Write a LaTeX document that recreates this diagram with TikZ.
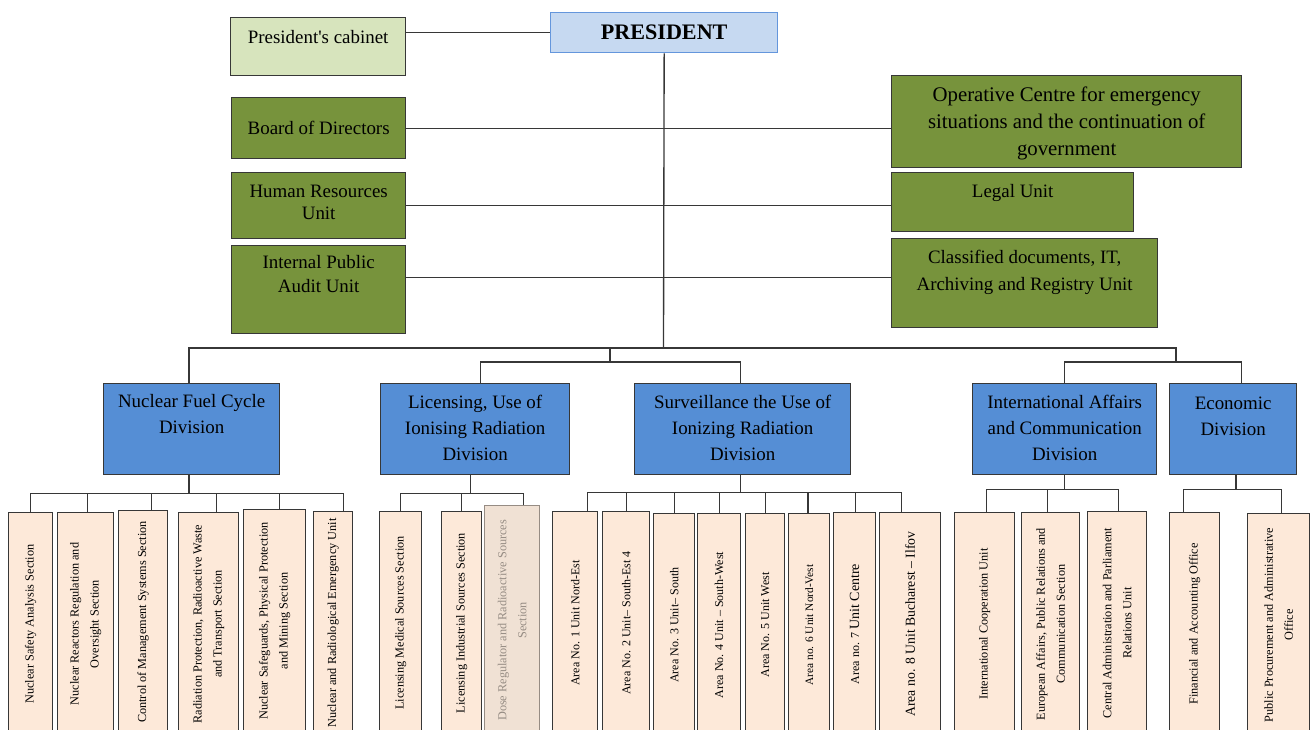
\documentclass[tikz,border=0pt]{standalone}
\usepackage{fontspec}
\setmainfont{Liberation Serif}
\usetikzlibrary{positioning}

\definecolor{boxline}{RGB}{55,55,55}
\definecolor{cabinetfill}{RGB}{215,228,189}
\definecolor{presfill}{RGB}{198,217,241}
\definecolor{presline}{RGB}{100,150,220}
\definecolor{unitgreen}{RGB}{119,147,60}
\definecolor{divblue}{RGB}{85,142,213}
\definecolor{secpeach}{RGB}{253,233,217}
\definecolor{dosefill}{RGB}{240,225,212}
\definecolor{doseline}{RGB}{150,140,132}

\tikzset{every picture/.style={line width=1pt}}
\tikzset{
  box/.style={draw=boxline, anchor=north west, inner sep=0pt},
  cabinetbox/.style={box, fill=cabinetfill},
  presbox/.style={box, draw=presline, fill=presfill},
  unitbox/.style={box, fill=unitgreen},
  divbox/.style={box, fill=divblue, minimum height=68.25pt},
  secbox/.style={box, fill=secpeach, minimum height=167pt},
  txt/.style={inner sep=0pt, align=center, font=\fontsize{14.2}{19.5}\selectfont},
  vtxt/.style={inner sep=0pt, align=center, rotate=90, font=\fontsize{9.2}{15}\selectfont},
  link/.style={draw=boxline}
}

\begin{document}
\begin{tikzpicture}[x=0.75pt,y=0.75pt,yscale=-1,xscale=1]
\useasboundingbox (0,0) rectangle (1310,729);

%Shape: Rectangle [president]
\node [presbox, minimum width=170.25pt, minimum height=30pt, font=\bfseries\fontsize{16.6}{20}\selectfont] (president) at (550,12) {PRESIDENT};
%Shape: Rectangle [cabinet]
\node [cabinetbox, minimum width=131.25pt, minimum height=43.5pt] (cabinet) at (230,17) {};
%Shape: Rectangle [board]
\node [unitbox, txt, minimum width=130.5pt, minimum height=45.75pt] (board) at (231,97) {Board of Directors};
%Shape: Rectangle [opcentre]
\node [unitbox, minimum width=262.5pt, minimum height=69pt] (opcentre) at (891,75) {};
%Shape: Rectangle [hr]
\node [unitbox, minimum width=130.5pt, minimum height=49.5pt] (hr) at (231,172) {};
%Shape: Rectangle [legal]
\node [unitbox, minimum width=181.5pt, minimum height=44.25pt] (legal) at (891,172) {};
%Shape: Rectangle [audit]
\node [unitbox, minimum width=130.5pt, minimum height=66pt] (audit) at (231,245) {};
%Shape: Rectangle [classified]
\node [unitbox, minimum width=199.5pt, minimum height=66.75pt] (classified) at (891,238) {};

%Shape: Rectangle [divisions]
\node [divbox, minimum width=132pt] (fuel) at (103,383) {};
\node [divbox, minimum width=141.75pt] (licensing) at (380,383) {};
\node [divbox, minimum width=162pt] (surveillance) at (634,383) {};
\node [divbox, minimum width=138pt] (international) at (972,383) {};
\node [divbox, minimum width=95.25pt] (economic) at (1169,383) {};

%Shape: Rectangle [sections]
\node [secbox, minimum width=33pt] (ns1) at (8,512) {};
\node [secbox, minimum width=42pt] (ns2) at (57,512) {};
\node [secbox, minimum width=36.75pt] (ns3) at (118,510) {};
\node [secbox, minimum width=45pt] (ns4) at (178,512) {};
\node [secbox, minimum width=46.5pt] (ns5) at (243,509) {};
\node [secbox, minimum width=29.25pt] (ns6) at (313,511) {};
\node [secbox, minimum width=31.5pt] (ls1) at (379,511) {};
\node [secbox, minimum width=30pt] (ls2) at (441,511) {};
\node [secbox, draw=doseline, fill=dosefill, minimum width=41.25pt, minimum height=172pt] (ls3) at (484,505) {};
\node [secbox, minimum width=33.75pt] (ar1) at (552,511) {};
\node [secbox, minimum width=35.25pt] (ar2) at (602,511) {};
\node [secbox, minimum width=30.75pt] (ar3) at (653,513) {};
\node [secbox, minimum width=32.25pt] (ar4) at (697,513) {};
\node [secbox, minimum width=29.25pt] (ar5) at (745,513) {};
\node [secbox, minimum width=30.75pt] (ar6) at (788,513) {};
\node [secbox, minimum width=31.5pt] (ar7) at (833,512) {};
\node [secbox, minimum width=45.75pt] (ar8) at (879,512) {};
\node [secbox, minimum width=45pt] (ia1) at (954,512) {};
\node [secbox, minimum width=43.5pt] (ia2) at (1021,512) {};
\node [secbox, minimum width=44.25pt] (ia3) at (1087,511) {};
\node [secbox, minimum width=37.5pt] (ec1) at (1169,512) {};
\node [secbox, minimum width=46.5pt] (ec2) at (1247,513) {};

%Straight Lines
\draw [link] (president.west -| cabinet.east) -- (president.west) ;
\draw [link] (board.east) -- (board.east -| opcentre.west) ;
\draw [link] (hr.east) -- (hr.east -| legal.west) ;
\draw [link] ([yshift=-9pt]audit.east) -- ([yshift=-9pt]audit.east -| classified.west) ;

%Straight Lines
\coordinate (trunk) at (663.5,348) ;
\coordinate (midjoin) at (610,362) ;
\coordinate (rightjoin) at (1176,362) ;
\draw [link] (president.south) -- (trunk) ;
\draw [link] ([xshift=-2pt]fuel.north) |- (trunk -| rightjoin) -- (rightjoin) ;
\draw [link] (midjoin |- trunk) -- (midjoin) ;
\draw [link] ([xshift=4pt]licensing.north) |- (midjoin) -| ([xshift=-1.5pt]surveillance.north) ;
\draw [link] (international.north) |- (rightjoin) -| ([xshift=6pt]economic.north) ;

%Straight Lines
\draw [link] ([xshift=-2pt]fuel.south) -- ++(0,18) coordinate (fueljoin) ;
\draw [link] (ns1.north) |- (fueljoin) ;
\draw [link] ([xshift=1.5pt]ns2.north) |- (fueljoin) ;
\draw [link] ([xshift=6.4pt]ns3.north) |- (fueljoin) ;
\draw [link] ([xshift=6pt]ns4.north) |- (fueljoin) ;
\draw [link] ([xshift=3.75pt]ns5.north) |- (fueljoin) ;
\draw [link] ([xshift=7.9pt]ns6.north) |- (fueljoin) ;

\draw [link] ([xshift=-3.4pt]licensing.south) -- ++(0,18) coordinate (licjoin) ;
\draw [link] (ls1.north) |- (licjoin) ;
\draw [link] (ls2.north) |- (licjoin) ;
\draw [link] ([xshift=8.6pt]ls3.north) |- (licjoin) ;

\draw [link] ([xshift=-1.5pt]surveillance.south) -- ++(0,17) coordinate (survjoin) ;
\draw [link] ([xshift=9.4pt]ar1.north) |- (survjoin) ;
\draw [link] (ar2.north) |- (survjoin) ;
\draw [link] (ar3.north) |- (survjoin) ;
\draw [link] (ar4.north) |- (survjoin) ;
\draw [link] (ar5.north) |- (survjoin) ;
\draw [link] ([xshift=-1pt]ar6.north) |- (survjoin) ;
\draw [link] ([xshift=0.75pt]ar7.north) |- (survjoin) ;
\draw [link] ([xshift=-6.4pt]ar8.north) |- (survjoin) ;

\draw [link] (international.south) -- ++(0,14) coordinate (intjoin) ;
\draw [link] ([xshift=1.5pt]ia1.north) |- (intjoin) ;
\draw [link] ([xshift=-2.25pt]ia2.north) |- (intjoin) ;
\draw [link] ([xshift=1.1pt]ia3.north) |- (intjoin) ;

\draw [link] ([xshift=2pt]economic.south) -- ++(0,14) coordinate (ecojoin) ;
\draw [link] ([xshift=-8.25pt]ec1.north) |- (ecojoin) ;
\draw [link] ([xshift=1.9pt]ec2.north) |- (ecojoin) ;

% Text Node
\node [txt, below=9.75pt of cabinet.north] (cabinettxt) {President\textquotesingle s cabinet};
% Text Node
\node [txt, below=8.5pt of opcentre.north, font=\fontsize{15.6}{20.25}\selectfont] (opcentretxt) {Operative Centre for emergency\\situations and the continuation of\\government};
% Text Node
\node [txt, below=9pt of hr.north, font=\fontsize{14.2}{16.5}\selectfont] (hrtxt) {Human Resources\\Unit};
% Text Node
\node [txt, below=9pt of legal.north] (legaltxt) {Legal Unit};
% Text Node
\node [txt, below=7.5pt of audit.north, font=\fontsize{14.2}{18}\selectfont] (audittxt) {Internal Public\\Audit Unit};
% Text Node
\node [txt, below=8.25pt of classified.north, font=\fontsize{14.2}{20.25}\selectfont] (classifiedtxt) {Classified documents, IT,\\Archiving and Registry Unit};

% Text Node
\node [txt, below=8.25pt of fuel.north] (fueltxt) {Nuclear Fuel Cycle\\Division};
% Text Node
\node [txt, below=8.25pt of licensing.north] (licensingtxt) {Licensing, Use of\\Ionising Radiation\\Division};
% Text Node
\node [txt, below=8.25pt of surveillance.north] (surveillancetxt) {Surveillance the Use of\\Ionizing Radiation\\Division};
% Text Node
\node [txt, below=8.25pt of international.north] (internationaltxt) {International Affairs\\and Communication\\Division};
% Text Node
\node [txt, below=9.75pt of economic.north] (economictxt) {Economic\\Division};

% Text Node
\node [vtxt] (ns1txt) at (ns1) {Nuclear Safety Analysis Section};
\node [vtxt] (ns2txt) at (ns2) {Nuclear Reactors Regulation and\\Oversight Section};
\node [vtxt] (ns3txt) at (ns3) {Control of Management Systems Section};
\node [vtxt] (ns4txt) at (ns4) {Radiation Protection, Radioactive Waste\\and Transport Section};
\node [vtxt] (ns5txt) at (ns5) {Nuclear Safeguards, Physical Protection\\and Mining Section};
\node [vtxt] (ns6txt) at (ns6) {Nuclear and Radiological Emergency Unit};
% Text Node
\node [vtxt] (ls1txt) at (ls1) {Licensing Medical Sources Section};
\node [vtxt] (ls2txt) at (ls2) {Licensing Industrial Sources Section};
\node [vtxt, text=doseline] (ls3txt) at (ls3) {Dose Regulator and Radioactive Sources\\Section};
% Text Node
\node [vtxt, font=\fontsize{9}{15}\selectfont] (ar1txt) at (ar1) {Area No. 1 Unit Nord-Est};
\node [vtxt, font=\fontsize{9}{15}\selectfont] (ar2txt) at (ar2) {Area No. 2 Unit-- South-Est 4};
\node [vtxt, font=\fontsize{9}{15}\selectfont] (ar3txt) at (ar3) {Area No. 3 Unit-- South};
\node [vtxt, font=\fontsize{9}{15}\selectfont] (ar4txt) at (ar4) {Area No. 4 Unit -- South-West};
\node [vtxt, font=\fontsize{9}{15}\selectfont] (ar5txt) at (ar5) {Area No. 5 Unit West};
\node [vtxt, font=\fontsize{8.5}{15}\selectfont] (ar6txt) at (ar6) {Area no. 6 Unit Nord-Vest};
\node [vtxt, font=\fontsize{9}{15}\selectfont] (ar7txt) at (ar7) {Area no. 7 {\fontsize{10.5}{15}\selectfont Unit Centre}};
\node [vtxt, font=\fontsize{10.3}{15}\selectfont] (ar8txt) at (ar8) {Area no. 8 Unit Bucharest -- Ilfov};
% Text Node
\node [vtxt] (ia1txt) at (ia1) {International Cooperation Unit};
\node [vtxt] (ia2txt) at (ia2) {European Affairs, Public Relations and\\Communication Section};
\node [vtxt] (ia3txt) at (ia3) {Central Administration and Parliament\\Relations Unit};
% Text Node
\node [vtxt] (ec1txt) at (ec1) {Financial and Accounting Office};
\node [vtxt] (ec2txt) at (ec2) {Public Procurement and Administrative\\Office};

\end{tikzpicture}
\end{document}
